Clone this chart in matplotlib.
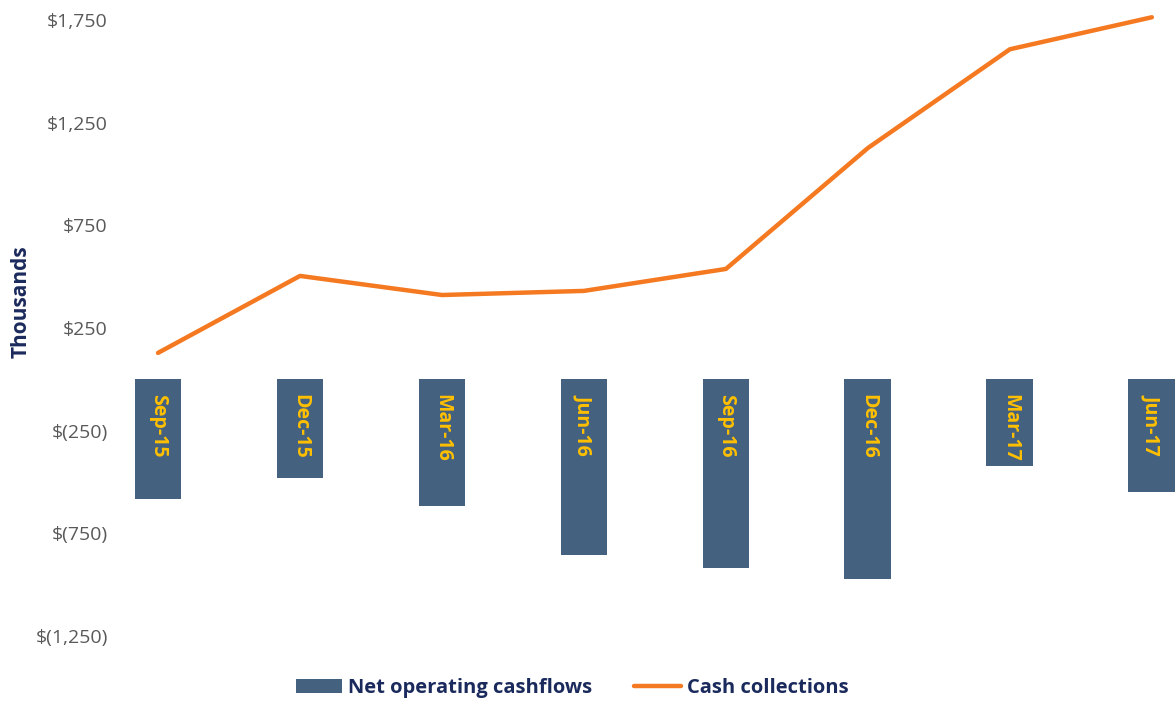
import matplotlib
matplotlib.use("Agg")
from matplotlib import pyplot as plt
from matplotlib.ticker import FuncFormatter

# chart data (thousands)
quarters = ["Sep-15", "Dec-15", "Mar-16", "Jun-16", "Sep-16", "Dec-16", "Mar-17", "Jun-17"]
net_operating_cashflows = [-581, -479, -616, -854, -917, -971, -421, -547]
cash_collections = [129, 504, 411, 431, 538, 1127, 1608, 1764]
y_ticks = [-1250, -750, -250, 250, 750, 1250, 1750]

bar_color = "#44617F"
line_color = "#F47920"
label_color = "#FFC000"
navy = "#1B2A5C"
grey = "#595959"

plt.rcParams["font.family"] = ["Open Sans", "DejaVu Sans"]


# format like $1,750 and $(250)
def money(v, pos=None):
    if v < 0:
        return f"$({abs(v):,.0f})"
    return f"${v:,.0f}"


fig = plt.figure(figsize=(11.76, 7.04), dpi=100)
ax = fig.add_axes([0.074, 0.082, 0.926, 0.904])

x = list(range(len(quarters)))
bars = ax.bar(x, net_operating_cashflows, width=0.33, color=bar_color,
              label="Net operating cashflows", zorder=2)
line, = ax.plot(x, cash_collections, color=line_color, linewidth=3.2,
                label="Cash collections", zorder=3, solid_capstyle="round")

# quarter labels inside the bars
for i, q in enumerate(quarters):
    ax.text(i, -72, q, rotation=270, ha="center", va="top", color=label_color,
            fontsize=14, fontweight="bold", zorder=4)

ax.set_xlim(-0.5, 7.17)
ax.set_ylim(-1300, 1800)
ax.set_yticks(y_ticks)
ax.yaxis.set_major_formatter(FuncFormatter(money))
ax.tick_params(axis="y", length=0, labelsize=14, labelcolor=grey, pad=-15)
ax.set_xticks([])
for s in ax.spines.values():
    s.set_visible(False)

fig.text(0.018, 1 - 302 / 704, "Thousands", rotation=90, ha="center", va="center",
         color=navy, fontsize=15, fontweight="bold")

leg = fig.legend([bars, line], ["Net operating cashflows", "Cash collections"],
                 loc="center", bbox_to_anchor=(572 / 1176, 1 - 688 / 704), ncol=2,
                 frameon=False, fontsize=14.5, handlelength=2.3, handletextpad=0.3,
                 columnspacing=2.1)
for t in leg.get_texts():
    t.set_color(navy)
    t.set_fontweight("bold")

fig.savefig("out.png", dpi=100)
